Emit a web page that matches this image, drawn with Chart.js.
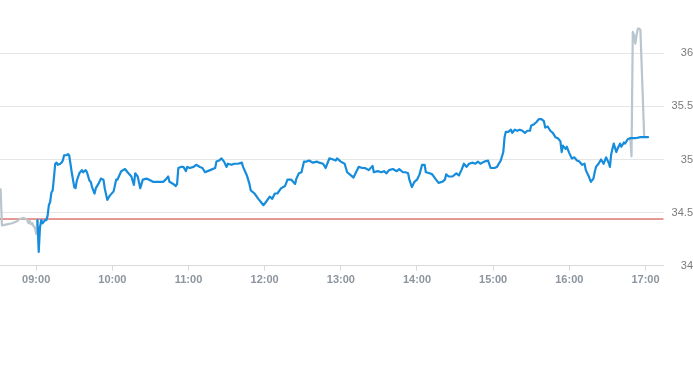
<!DOCTYPE html>
<html><head><meta charset="utf-8">
<script src="https://cdn.jsdelivr.net/npm/chart.js@4.4.1/dist/chart.umd.min.js"></script>
<style>html,body{margin:0;padding:0;background:#fff;overflow:hidden}#wrap{position:relative;width:693px;height:365px}</style>
</head><body><div id="wrap"><canvas id="c"></canvas></div>
<script>
// ---- data ----
const hourTicks = ["09:00","10:00","11:00","12:00","13:00","14:00","15:00","16:00","17:00"];
const yTicks = [34, 34.5, 35, 35.5, 36];
const axisStart = "08:31.5";
const axisEnd = "17:14.2";
const prevClose = 34.44;

const preTimes  = ["08:32","08:33","08:37","08:41","08:45","08:47","08:50","08:52","08:53","08:54","08:55","08:56","08:57","08:58","08:59","09:00","09:01"];
const prePrices = [34.72,34.38,34.39,34.40,34.42,34.44,34.45,34.44,34.43,34.40,34.42,34.39,34.40,34.37,34.36,34.30,34.43];

const postTimes  = ["16:48","16:49","16:50","16:51","16:52","16:53","16:54","16:55","16:56","16:59"];
const postPrices = [35.20,35.03,36.20,36.17,36.09,36.17,36.23,36.23,36.22,35.21];

const sessionTimes = ["09:01","09:02","09:03","09:04","09:05","09:07","09:08","09:09","09:10","09:11","09:12","09:13","09:14","09:15","09:16","09:17","09:19","09:20","09:21","09:22","09:24","09:25","09:26","09:27","09:28","09:30","09:31","09:32","09:34","09:36","09:37","09:39","09:40","09:42","09:43","09:44","09:46","09:47","09:49","09:51","09:53","09:54","09:56","09:58","10:01","10:03","10:04","10:07","10:10","10:12","10:15","10:17","10:18","10:20","10:22","10:24","10:27","10:29","10:32","10:35","10:37","10:40","10:42","10:44","10:45","10:48","10:50","10:51","10:52","10:54","10:56","10:58","10:59","11:01","11:04","11:06","11:09","11:11","11:13","11:17","11:21","11:22","11:24","11:26","11:28","11:30","11:31","11:34","11:36","11:39","11:42","11:43","11:46","11:48","11:49","11:52","11:55","11:57","11:59","12:01","12:04","12:06","12:08","12:10","12:13","12:16","12:18","12:21","12:24","12:25","12:27","12:29","12:31","12:33","12:35","12:38","12:41","12:43","12:46","12:48","12:51","12:54","12:56","12:57","13:00","13:03","13:05","13:08","13:10","13:12","13:14","13:17","13:19","13:22","13:25","13:26","13:29","13:32","13:34","13:36","13:38","13:41","13:44","13:46","13:49","13:51","13:53","13:54","13:56","13:58","14:00","14:02","14:04","14:06","14:07","14:10","14:12","14:15","14:17","14:20","14:22","14:23","14:25","14:28","14:31","14:33","14:35","14:37","14:39","14:41","14:44","14:46","14:48","14:50","14:53","14:56","14:58","15:01","15:03","15:06","15:08","15:09","15:10","15:12","15:14","15:15","15:17","15:19","15:21","15:23","15:25","15:27","15:29","15:30","15:32","15:34","15:36","15:38","15:40","15:41","15:43","15:45","15:47","15:49","15:51","15:53","15:54","15:55","15:57","15:58","16:00","16:02","16:04","16:06","16:08","16:10","16:12","16:13","16:15","16:17","16:19","16:20","16:21","16:23","16:25","16:27","16:29","16:31","16:32","16:33","16:35","16:37","16:38","16:40","16:41","16:43","16:44","16:46","16:48","16:52","16:56","17:02"];
const sessionPrices = [34.43,34.13,34.36,34.43,34.40,34.43,34.43,34.47,34.57,34.60,34.69,34.71,34.83,34.96,34.97,34.95,34.96,34.97,34.99,35.04,35.04,35.05,35.04,34.96,34.88,34.74,34.73,34.80,34.87,34.90,34.88,34.90,34.88,34.80,34.79,34.74,34.68,34.73,34.77,34.82,34.81,34.73,34.62,34.66,34.70,34.81,34.81,34.89,34.91,34.88,34.84,34.76,34.87,34.84,34.73,34.81,34.82,34.81,34.79,34.79,34.79,34.79,34.81,34.84,34.79,34.77,34.75,34.77,34.92,34.93,34.93,34.89,34.93,34.92,34.93,34.95,34.93,34.92,34.88,34.90,34.92,34.98,34.99,35.01,34.98,34.93,34.96,34.95,34.96,34.96,34.97,34.93,34.85,34.77,34.71,34.68,34.63,34.60,34.57,34.60,34.65,34.63,34.68,34.68,34.73,34.75,34.81,34.81,34.77,34.82,34.87,34.88,34.98,34.98,34.99,34.97,34.98,34.97,34.96,34.92,35.01,35.00,34.99,35.01,34.98,34.96,34.88,34.85,34.83,34.88,34.93,34.92,34.92,34.90,34.94,34.88,34.89,34.88,34.89,34.87,34.90,34.91,34.89,34.91,34.88,34.88,34.87,34.81,34.74,34.79,34.81,34.86,34.95,34.95,34.88,34.87,34.86,34.81,34.78,34.79,34.81,34.86,34.84,34.84,34.87,34.85,34.90,34.96,34.93,34.96,34.97,34.96,34.98,34.96,34.98,34.99,34.92,34.92,34.93,34.99,35.07,35.21,35.26,35.26,35.28,35.25,35.28,35.27,35.28,35.27,35.25,35.27,35.27,35.32,35.33,35.35,35.38,35.38,35.36,35.30,35.31,35.27,35.25,35.21,35.20,35.17,35.07,35.13,35.10,35.12,35.06,35.01,35.02,34.99,34.98,34.95,34.96,34.90,34.85,34.79,34.82,34.88,34.93,34.96,35.00,34.96,35.02,34.97,34.93,35.05,35.15,35.07,35.10,35.15,35.12,35.16,35.15,35.19,35.20,35.20,35.21,35.21];

// ---- helpers ----
const toMin = s => { const [h, m] = s.split(':'); return Number(h) * 60 + Number(m); };
const pts = (ts, ps) => ts.map((t, i) => ({ x: toMin(t), y: ps[i] }));

const BLUE = '#168cdc', GREY = '#bac5cd', RED = '#cc3328';
const lineBase = { pointRadius: 0, pointHoverRadius: 0, tension: 0, fill: false, borderJoinStyle: 'round', borderCapStyle: 'round' };

new Chart(document.getElementById('c'), {
  type: 'line',
  data: {
    datasets: [
      Object.assign({ data: pts(sessionTimes, sessionPrices), borderColor: BLUE, borderWidth: 2.2, order: 0 }, lineBase),
      Object.assign({ data: pts(preTimes, prePrices), borderColor: GREY, borderWidth: 2.2, order: 1 }, lineBase),
      Object.assign({ data: pts(postTimes, postPrices), borderColor: GREY, borderWidth: 2.2, order: 1 }, lineBase),
      Object.assign({ data: [{ x: toMin(axisStart), y: prevClose }, { x: toMin(axisEnd), y: prevClose }], borderColor: RED, borderWidth: 1, order: 2 }, lineBase)
    ]
  },
  options: {
    responsive: true, maintainAspectRatio: false, animation: false,
    layout: { padding: { left: 0, right: 0, top: 0, bottom: 75 } },
    plugins: { legend: { display: false }, tooltip: { enabled: false } },
    scales: {
      x: {
        type: 'linear', min: toMin(axisStart), max: toMin(axisEnd),
        afterBuildTicks: s => { s.ticks = hourTicks.map(h => ({ value: toMin(h) })); },
        afterFit: s => { s.paddingLeft = 0; s.paddingRight = 0; },
        ticks: { autoSkip: false, maxRotation: 0, padding: 3, color: '#8c959e',
          font: { family: "'Liberation Sans', Arial, sans-serif", size: 11, weight: 'bold' },
          callback: (v, i) => hourTicks[i] },
        grid: { drawOnChartArea: false, drawTicks: true, tickLength: 5, color: '#d6dadd' },
        border: { display: true, color: '#d6dadd', width: 1 }
      },
      y: {
        position: 'right', min: 34, max: 36.5,
        afterBuildTicks: s => { s.ticks = yTicks.map(v => ({ value: v })); },
        afterFit: s => { s.width = 29.5; s.paddingTop = 0; s.paddingBottom = 0; },
        ticks: { crossAlign: 'far', padding: 9, color: '#7b7b7b',
          font: { family: "'Liberation Sans', Arial, sans-serif", size: 11 },
          callback: (v, i) => String(yTicks[i]) },
        grid: { drawTicks: false, color: '#e6e6e6', lineWidth: 1 },
        border: { display: false }
      }
    }
  }
});
</script></body></html>
